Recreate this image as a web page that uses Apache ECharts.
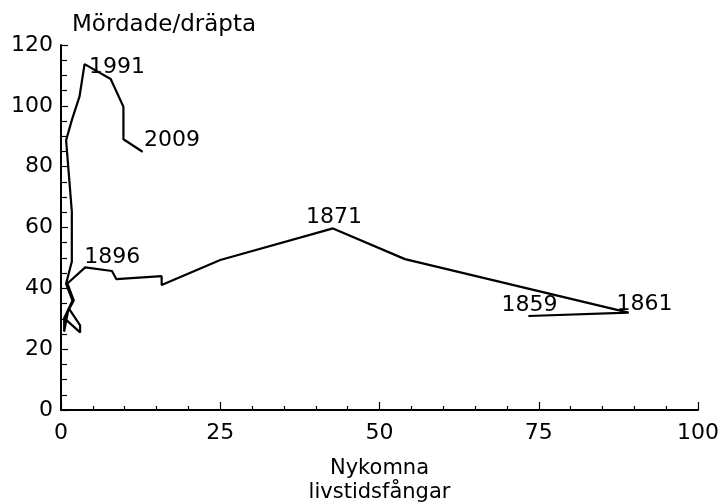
<!DOCTYPE html>
<html>
<head>
<meta charset="utf-8">
<script src="https://cdn.jsdelivr.net/npm/echarts@6/dist/echarts.min.js"></script>
<style>html,body{margin:0;padding:0;background:#fff}#c{width:724px;height:504px}</style>
</head>
<body>
<div id="c"></div>
<script>
// Nykomna livstidsfångar (x) vs Mördade/dräpta (y), in time order
const xs = [73.4, 89.1, 54.0, 42.7, 25.0, 15.8, 15.8, 8.7, 8.0, 3.8,
            1.0, 2.0, 0.5, 3.0, 3.0, 1.2, 0.5, 0.5, 1.8, 0.8,
            1.7, 1.7, 0.8, 1.7, 2.9, 3.7, 7.8, 9.8, 9.8, 12.8];
const ys = [30.9, 32.0, 49.6, 59.7, 49.3, 41.1, 44.0, 43.0, 45.7, 46.9,
            41.6, 36.0, 30.2, 25.5, 27.8, 33.5, 25.8, 30.2, 36.0, 41.5,
            48.8, 65.2, 88.7, 95.3, 103.0, 113.7, 108.8, 99.7, 89.0, 84.9];
const yearLabels = ['1859', '1861', '', '1871', '', '', '', '', '', '1896',
                    '', '', '', '', '', '', '', '', '', '',
                    '', '', '', '', '', '1991', '', '', '', '2009'];
const xTitle = 'Nykomna\nlivstidsfångar';
const yTitle = 'Mördade/dräpta';

// label placement: anchor position + pixel shift
const labelStyle = {
  '1859': {position: 'top', distance: 4, dx: 1, dy: 5},
  '1861': {position: 'top', distance: 3, dx: 16, dy: 6},
  '1871': {position: 'top', distance: 5, dx: 1, dy: 5},
  '1896': {position: 'top', distance: 2, dx: 27, dy: 3},
  '1991': {position: 'right', distance: 4, dx: 0, dy: 3},
  '2009': {position: 'right', distance: 1, dx: 0, dy: -11}
};
const FONT = 'DejaVu Sans';
const data = xs.map((x, i) => {
  const item = {value: [x, ys[i]]};
  const lab = yearLabels[i];
  if (lab) {
    item.label = {
      show: true, formatter: lab, color: '#000', fontSize: 22, fontFamily: FONT,
      position: labelStyle[lab].position, distance: labelStyle[lab].distance
    };
  }
  return item;
});

const chart = echarts.init(document.getElementById('c'), null, {renderer: 'canvas'});
chart.setOption({
  animation: false,
  backgroundColor: '#fff',
  grid: {left: 61, right: 26, top: 45, bottom: 94, containLabel: false, outerBoundsMode: 'none'},
  xAxis: {
    type: 'value', min: 0, max: 100, interval: 25,
    name: xTitle, nameLocation: 'middle', nameGap: 47,
    nameTextStyle: {color: '#000', fontSize: 21, fontFamily: FONT, lineHeight: 24},
    axisLine: {show: true, onZero: false, lineStyle: {color: '#000', width: 2}},
    axisTick: {show: true, inside: true, length: 8, lineStyle: {color: '#000', width: 1.2}},
    minorTick: {show: true, splitNumber: 5, length: 4, lineStyle: {color: '#000', width: 1.2}},
    axisLabel: {color: '#000', fontSize: 22, fontFamily: FONT, margin: 12},
    splitLine: {show: false}
  },
  yAxis: {
    type: 'value', min: 0, max: 120, interval: 20,
    name: yTitle, nameLocation: 'end', nameGap: 8,
    nameTextStyle: {color: '#000', fontSize: 23, fontFamily: FONT, align: 'left', padding: [0, 0, 0, 11]},
    axisLine: {show: true, onZero: false, lineStyle: {color: '#000', width: 2}},
    axisTick: {show: true, inside: true, length: 7, lineStyle: {color: '#000', width: 1.2}},
    minorTick: {show: true, splitNumber: 4, length: 6, lineStyle: {color: '#000', width: 1.2}},
    axisLabel: {color: '#000', fontSize: 22, fontFamily: FONT, margin: 8},
    splitLine: {show: false}
  },
  series: [{
    type: 'line',
    data: data,
    symbol: 'circle', symbolSize: 1, showSymbol: true,
    itemStyle: {color: '#000'},
    lineStyle: {color: '#000', width: 2.2},
    label: {show: false},
    labelLayout: function (params) {
      const lab = yearLabels[params.dataIndex];
      if (!lab) return {};
      return {dx: labelStyle[lab].dx, dy: labelStyle[lab].dy, hideOverlap: false};
    }
  }]
});
</script>
</body>
</html>
